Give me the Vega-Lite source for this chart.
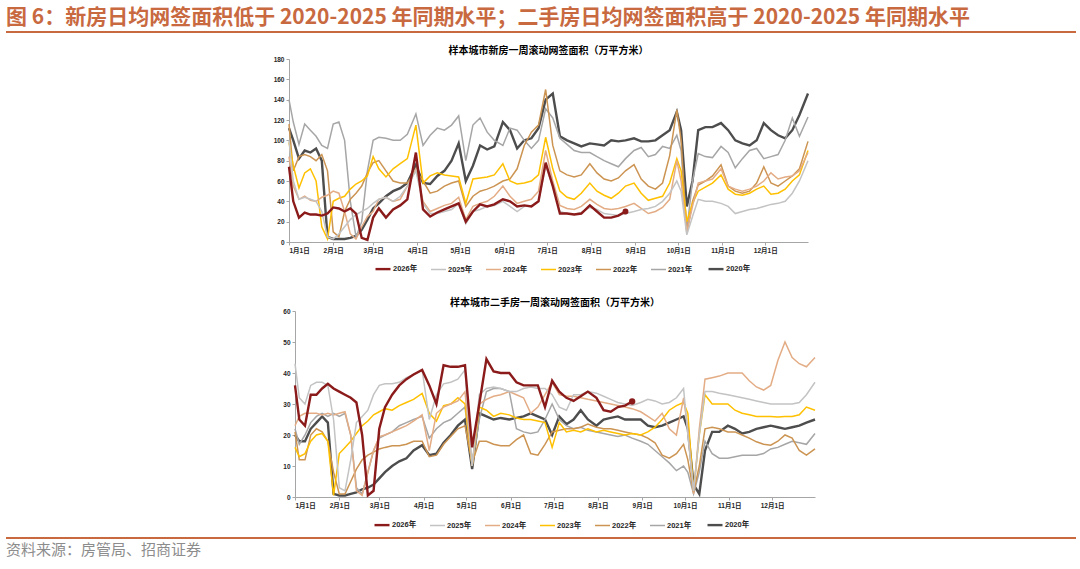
{
  "$schema": "https://vega.github.io/schema/vega-lite/v6.json",
  "background": "white",
  "padding": {"left": 5, "right": 5, "top": 7, "bottom": 0},
  "datasets": {
    "newhome": [
      {"d":"2021-01-01","2026年":74,"2025年":100,"2024年":84,"2023年":98,"2022年":116,"2021年":140,"2020年":112},
      {"d":"2021-01-04","2026年":40,"2025年":60,"2024年":55,"2023年":75,"2022年":70,"2021年":118,"2020年":100},
      {"d":"2021-01-08","2026年":24,"2025年":42,"2024年":42,"2023年":53,"2022年":84,"2021年":96,"2020年":82},
      {"d":"2021-01-12","2026年":29,"2025年":44,"2024年":45,"2023年":68,"2022年":86,"2021年":116,"2020年":90},
      {"d":"2021-01-16","2026年":27,"2025年":42,"2024年":41,"2023年":72,"2022年":84,"2021年":110,"2020年":88},
      {"d":"2021-01-20","2026年":27,"2025年":40,"2024年":40,"2023年":60,"2022年":80,"2021年":104,"2020年":92},
      {"d":"2021-01-24","2026年":26,"2025年":30,"2024年":44,"2023年":15,"2022年":86,"2021年":95,"2020年":80},
      {"d":"2021-01-28","2026年":28,"2025年":5,"2024年":46,"2023年":3,"2022年":70,"2021年":92,"2020年":5},
      {"d":"2021-02-01","2026年":34,"2025年":3,"2024年":50,"2023年":40,"2022年":10,"2021年":116,"2020年":3},
      {"d":"2021-02-05","2026年":33,"2025年":8,"2024年":48,"2023年":43,"2022年":5,"2021年":118,"2020年":3},
      {"d":"2021-02-09","2026年":30,"2025年":15,"2024年":30,"2023年":45,"2022年":30,"2021年":100,"2020年":3},
      {"d":"2021-02-13","2026年":33,"2025年":22,"2024年":8,"2023年":52,"2022年":42,"2021年":40,"2020年":4},
      {"d":"2021-02-17","2026年":28,"2025年":27,"2024年":3,"2023年":57,"2022年":48,"2021年":5,"2020年":6},
      {"d":"2021-02-21","2026年":4,"2025年":30,"2024年":15,"2023年":60,"2022年":55,"2021年":20,"2020年":12},
      {"d":"2021-02-25","2026年":2,"2025年":33,"2024年":25,"2023年":65,"2022年":68,"2021年":70,"2020年":22},
      {"d":"2021-03-01","2026年":24,"2025年":38,"2024年":30,"2023年":84,"2022年":78,"2021年":100,"2020年":33},
      {"d":"2021-03-05","2026年":33,"2025年":42,"2024年":42,"2023年":72,"2022年":80,"2021年":103,"2020年":38},
      {"d":"2021-03-10","2026年":24,"2025年":44,"2024年":44,"2023年":64,"2022年":70,"2021年":102,"2020年":45},
      {"d":"2021-03-15","2026年":32,"2025年":40,"2024年":40,"2023年":72,"2022年":60,"2021年":100,"2020年":50},
      {"d":"2021-03-20","2026年":36,"2025年":45,"2024年":42,"2023年":77,"2022年":58,"2021年":100,"2020年":53},
      {"d":"2021-03-25","2026年":42,"2025年":55,"2024年":55,"2023年":82,"2022年":58,"2021年":106,"2020年":58},
      {"d":"2021-03-31","2026年":88,"2025年":70,"2024年":72,"2023年":115,"2022年":70,"2021年":126,"2020年":76},
      {"d":"2021-04-05","2026年":32,"2025年":38,"2024年":40,"2023年":58,"2022年":60,"2021年":95,"2020年":58},
      {"d":"2021-04-10","2026年":25,"2025年":28,"2024年":30,"2023年":65,"2022年":48,"2021年":105,"2020年":57},
      {"d":"2021-04-15","2026年":29,"2025年":28,"2024年":33,"2023年":68,"2022年":50,"2021年":112,"2020年":65},
      {"d":"2021-04-20","2026年":32,"2025年":30,"2024年":36,"2023年":66,"2022年":55,"2021年":110,"2020年":70},
      {"d":"2021-04-25","2026年":35,"2025年":32,"2024年":38,"2023年":65,"2022年":58,"2021年":115,"2020年":80},
      {"d":"2021-04-30","2026年":38,"2025年":38,"2024年":44,"2023年":64,"2022年":60,"2021年":124,"2020年":97},
      {"d":"2021-05-05","2026年":20,"2025年":18,"2024年":22,"2023年":38,"2022年":35,"2021年":80,"2020年":60},
      {"d":"2021-05-10","2026年":30,"2025年":30,"2024年":35,"2023年":62,"2022年":45,"2021年":115,"2020年":75},
      {"d":"2021-05-15","2026年":37,"2025年":32,"2024年":38,"2023年":63,"2022年":50,"2021年":122,"2020年":95},
      {"d":"2021-05-20","2026年":35,"2025年":35,"2024年":40,"2023年":64,"2022年":52,"2021年":108,"2020年":91},
      {"d":"2021-05-25","2026年":37,"2025年":36,"2024年":45,"2023年":66,"2022年":55,"2021年":100,"2020年":94},
      {"d":"2021-05-31","2026年":42,"2025年":40,"2024年":55,"2023年":77,"2022年":60,"2021年":95,"2020年":118},
      {"d":"2021-06-05","2026年":40,"2025年":35,"2024年":45,"2023年":60,"2022年":62,"2021年":112,"2020年":110},
      {"d":"2021-06-10","2026年":35,"2025年":30,"2024年":38,"2023年":57,"2022年":72,"2021年":110,"2020年":92},
      {"d":"2021-06-15","2026年":36,"2025年":35,"2024年":40,"2023年":58,"2022年":95,"2021年":100,"2020年":100},
      {"d":"2021-06-20","2026年":35,"2025年":36,"2024年":42,"2023年":60,"2022年":108,"2021年":92,"2020年":102},
      {"d":"2021-06-25","2026年":40,"2025年":40,"2024年":50,"2023年":66,"2022年":115,"2021年":100,"2020年":112},
      {"d":"2021-06-30","2026年":78,"2025年":75,"2024年":90,"2023年":103,"2022年":150,"2021年":131,"2020年":140},
      {"d":"2021-07-05","2026年":55,"2025年":55,"2024年":60,"2023年":72,"2022年":95,"2021年":122,"2020年":146},
      {"d":"2021-07-10","2026年":28,"2025年":30,"2024年":36,"2023年":50,"2022年":70,"2021年":102,"2020年":104},
      {"d":"2021-07-15","2026年":28,"2025年":28,"2024年":33,"2023年":44,"2022年":66,"2021年":96,"2020年":100},
      {"d":"2021-07-20","2026年":27,"2025年":27,"2024年":32,"2023年":42,"2022年":64,"2021年":90,"2020年":97},
      {"d":"2021-07-25","2026年":28,"2025年":29,"2024年":35,"2023年":48,"2022年":66,"2021年":88,"2020年":94},
      {"d":"2021-07-31","2026年":36,"2025年":34,"2024年":42,"2023年":58,"2022年":77,"2021年":88,"2020年":97},
      {"d":"2021-08-05","2026年":30,"2025年":32,"2024年":37,"2023年":50,"2022年":68,"2021年":84,"2020年":96},
      {"d":"2021-08-10","2026年":24,"2025年":28,"2024年":33,"2023年":46,"2022年":62,"2021年":80,"2020年":95},
      {"d":"2021-08-15","2026年":24,"2025年":27,"2024年":32,"2023年":43,"2022年":60,"2021年":77,"2020年":100},
      {"d":"2021-08-20","2026年":26,"2025年":26,"2024年":33,"2023年":48,"2022年":63,"2021年":74,"2020年":99},
      {"d":"2021-08-25","2026年":30,"2025年":28,"2024年":35,"2023年":55,"2022年":70,"2021年":82,"2020年":100},
      {"d":"2021-08-31","2025年":30,"2024年":38,"2023年":58,"2022年":76,"2021年":90,"2020年":102},
      {"d":"2021-09-05","2025年":32,"2024年":33,"2023年":48,"2022年":62,"2021年":93,"2020年":99},
      {"d":"2021-09-10","2025年":33,"2024年":28,"2023年":41,"2022年":55,"2021年":84,"2020年":99},
      {"d":"2021-09-15","2025年":35,"2024年":30,"2023年":43,"2022年":52,"2021年":86,"2020年":100},
      {"d":"2021-09-20","2025年":40,"2024年":34,"2023年":45,"2022年":58,"2021年":94,"2020年":105},
      {"d":"2021-09-25","2025年":48,"2024年":42,"2023年":58,"2022年":85,"2021年":92,"2020年":110},
      {"d":"2021-09-30","2025年":60,"2024年":80,"2023年":82,"2022年":130,"2021年":105,"2020年":128},
      {"d":"2021-10-03","2025年":50,"2024年":60,"2023年":70,"2022年":100,"2021年":90,"2020年":110},
      {"d":"2021-10-07","2025年":7,"2024年":10,"2023年":20,"2022年":8,"2021年":12,"2020年":35},
      {"d":"2021-10-11","2025年":25,"2024年":35,"2023年":38,"2022年":40,"2021年":60,"2020年":60},
      {"d":"2021-10-15","2025年":42,"2024年":58,"2023年":50,"2022年":56,"2021年":87,"2020年":110},
      {"d":"2021-10-20","2025年":40,"2024年":60,"2023年":54,"2022年":60,"2021年":84,"2020年":113},
      {"d":"2021-10-25","2025年":40,"2024年":62,"2023年":58,"2022年":65,"2021年":83,"2020年":113},
      {"d":"2021-10-31","2025年":38,"2024年":72,"2023年":66,"2022年":76,"2021年":94,"2020年":117},
      {"d":"2021-11-05","2025年":35,"2024年":55,"2023年":52,"2022年":55,"2021年":88,"2020年":110},
      {"d":"2021-11-10","2025年":28,"2024年":52,"2023年":47,"2022年":50,"2021年":73,"2020年":100},
      {"d":"2021-11-15","2025年":30,"2024年":50,"2023年":46,"2022年":48,"2021年":82,"2020年":97},
      {"d":"2021-11-20","2025年":32,"2024年":52,"2023年":48,"2022年":50,"2021年":90,"2020年":95},
      {"d":"2021-11-25","2025年":33,"2024年":55,"2023年":52,"2022年":58,"2021年":92,"2020年":100},
      {"d":"2021-11-30","2025年":35,"2024年":60,"2023年":55,"2022年":74,"2021年":82,"2020年":117},
      {"d":"2021-12-05","2025年":37,"2024年":68,"2023年":47,"2022年":58,"2021年":84,"2020年":110},
      {"d":"2021-12-10","2025年":38,"2024年":62,"2023年":48,"2022年":55,"2021年":86,"2020年":105},
      {"d":"2021-12-15","2025年":40,"2024年":64,"2023年":52,"2022年":60,"2021年":100,"2020年":102},
      {"d":"2021-12-20","2025年":48,"2024年":65,"2023年":60,"2022年":65,"2021年":122,"2020年":110},
      {"d":"2021-12-25","2025年":60,"2024年":70,"2023年":66,"2022年":72,"2021年":104,"2020年":125},
      {"d":"2021-12-31","2025年":80,"2024年":88,"2023年":90,"2022年":99,"2021年":123,"2020年":146}
    ],
    "resale": [
      {"d":"2021-01-01","2026年":36,"2025年":43,"2024年":23,"2023年":16,"2022年":21,"2021年":22,"2020年":20},
      {"d":"2021-01-04","2026年":25,"2025年":32,"2024年":26,"2023年":13,"2022年":12,"2021年":17,"2020年":18},
      {"d":"2021-01-08","2026年":23,"2025年":30,"2024年":27,"2023年":14,"2022年":12,"2021年":20,"2020年":18},
      {"d":"2021-01-12","2026年":33,"2025年":36,"2024年":27,"2023年":18,"2022年":20,"2021年":24,"2020年":22},
      {"d":"2021-01-16","2026年":33,"2025年":37,"2024年":27,"2023年":20,"2022年":22,"2021年":26,"2020年":24},
      {"d":"2021-01-20","2026年":35,"2025年":37,"2024年":26.5,"2023年":20.5,"2022年":21,"2021年":27,"2020年":26},
      {"d":"2021-01-24","2026年":36.5,"2025年":36,"2024年":27,"2023年":18,"2022年":18,"2021年":26,"2020年":24},
      {"d":"2021-01-28","2026年":35,"2025年":25,"2024年":26.5,"2023年":0.5,"2022年":8,"2021年":27,"2020年":1},
      {"d":"2021-02-01","2026年":34,"2025年":3,"2024年":27,"2023年":14,"2022年":1,"2021年":26,"2020年":0.5},
      {"d":"2021-02-05","2026年":33,"2025年":2,"2024年":27.5,"2023年":16,"2022年":1,"2021年":27,"2020年":0.5},
      {"d":"2021-02-09","2026年":32,"2025年":12,"2024年":20,"2023年":18,"2022年":5,"2021年":20,"2020年":1},
      {"d":"2021-02-13","2026年":30.5,"2025年":24,"2024年":2,"2023年":20.5,"2022年":9,"2021年":3,"2020年":1.5},
      {"d":"2021-02-17","2026年":20,"2025年":26,"2024年":0.5,"2023年":23,"2022年":12,"2021年":1,"2020年":2.5},
      {"d":"2021-02-21","2026年":0.5,"2025年":28,"2024年":8,"2023年":24.5,"2022年":13.5,"2021年":8,"2020年":3},
      {"d":"2021-02-25","2026年":2,"2025年":33,"2024年":15,"2023年":26.5,"2022年":14.5,"2021年":15,"2020年":4},
      {"d":"2021-03-01","2026年":22,"2025年":36,"2024年":19.5,"2023年":27.5,"2022年":15.5,"2021年":19,"2020年":6},
      {"d":"2021-03-05","2026年":29,"2025年":36.5,"2024年":20,"2023年":28.5,"2022年":16,"2021年":20,"2020年":8},
      {"d":"2021-03-10","2026年":33,"2025年":36.5,"2024年":21,"2023年":28,"2022年":16.5,"2021年":21,"2020年":10},
      {"d":"2021-03-15","2026年":36,"2025年":37,"2024年":22,"2023年":29.5,"2022年":16.5,"2021年":23,"2020年":11.5},
      {"d":"2021-03-20","2026年":38,"2025年":38.5,"2024年":23,"2023年":30.5,"2022年":17,"2021年":24,"2020年":12.5},
      {"d":"2021-03-25","2026年":39.5,"2025年":39.5,"2024年":24.5,"2023年":31.5,"2022年":18,"2021年":25,"2020年":15},
      {"d":"2021-03-31","2026年":41,"2025年":41,"2024年":26.5,"2023年":33.4,"2022年":18,"2021年":26,"2020年":16.7},
      {"d":"2021-04-05","2026年":36,"2025年":25,"2024年":15,"2023年":27,"2022年":13,"2021年":19,"2020年":13.5},
      {"d":"2021-04-10","2026年":30,"2025年":33,"2024年":27,"2023年":24.5,"2022年":13.5,"2021年":22,"2020年":14},
      {"d":"2021-04-15","2026年":42.5,"2025年":36.5,"2024年":29,"2023年":29.5,"2022年":17,"2021年":24,"2020年":17.5},
      {"d":"2021-04-20","2026年":42,"2025年":37,"2024年":30,"2023年":30,"2022年":19.5,"2021年":25,"2020年":20},
      {"d":"2021-04-25","2026年":42,"2025年":38,"2024年":31,"2023年":32,"2022年":22,"2021年":27,"2020年":23},
      {"d":"2021-04-30","2026年":42.5,"2025年":41,"2024年":34,"2023年":30,"2022年":23,"2021年":29,"2020年":25},
      {"d":"2021-05-05","2026年":16,"2025年":10,"2024年":10,"2023年":10,"2022年":11,"2021年":10,"2020年":9},
      {"d":"2021-05-10","2026年":30,"2025年":33,"2024年":30,"2023年":29,"2022年":18,"2021年":25,"2020年":27},
      {"d":"2021-05-15","2026年":44.5,"2025年":35,"2024年":31.5,"2023年":28,"2022年":18,"2021年":34,"2020年":26},
      {"d":"2021-05-20","2026年":40.5,"2025年":35.5,"2024年":32.5,"2023年":26,"2022年":17,"2021年":35,"2020年":25},
      {"d":"2021-05-25","2026年":40,"2025年":35,"2024年":33,"2023年":27,"2022年":16.5,"2021年":35,"2020年":25.5},
      {"d":"2021-05-31","2026年":40,"2025年":34,"2024年":34,"2023年":26.5,"2022年":16.5,"2021年":34,"2020年":25},
      {"d":"2021-06-05","2026年":37,"2025年":34,"2024年":33,"2023年":25.5,"2022年":18.5,"2021年":22,"2020年":25.5},
      {"d":"2021-06-10","2026年":36,"2025年":35,"2024年":32,"2023年":25,"2022年":20,"2021年":21,"2020年":26},
      {"d":"2021-06-15","2026年":36,"2025年":35.5,"2024年":27,"2023年":25,"2022年":14,"2021年":20.5,"2020年":27},
      {"d":"2021-06-20","2026年":36,"2025年":35,"2024年":29,"2023年":24.5,"2022年":13.5,"2021年":21,"2020年":26},
      {"d":"2021-06-25","2026年":29,"2025年":35,"2024年":33,"2023年":24,"2022年":17,"2021年":25,"2020年":25},
      {"d":"2021-06-30","2026年":37.5,"2025年":33,"2024年":37,"2023年":16,"2022年":21,"2021年":30,"2020年":20},
      {"d":"2021-07-05","2026年":34,"2025年":29,"2024年":33,"2023年":24,"2022年":21.5,"2021年":25,"2020年":26},
      {"d":"2021-07-10","2026年":32,"2025年":28,"2024年":32.5,"2023年":21,"2022年":22,"2021年":23,"2020年":23.5},
      {"d":"2021-07-15","2026年":31,"2025年":33,"2024年":32.5,"2023年":21.5,"2022年":22,"2021年":22,"2020年":25},
      {"d":"2021-07-20","2026年":32.5,"2025年":33,"2024年":32,"2023年":21,"2022年":22.5,"2021年":22.5,"2020年":28},
      {"d":"2021-07-25","2026年":34,"2025年":34,"2024年":31.5,"2023年":22,"2022年":23.5,"2021年":21.5,"2020年":25},
      {"d":"2021-07-31","2026年":32,"2025年":33.5,"2024年":31,"2023年":21,"2022年":22.5,"2021年":21,"2020年":23},
      {"d":"2021-08-05","2026年":28,"2025年":32.5,"2024年":30.5,"2023年":21.5,"2022年":22,"2021年":20.5,"2020年":25},
      {"d":"2021-08-10","2026年":27.5,"2025年":31.5,"2024年":30,"2023年":21,"2022年":22,"2021年":20,"2020年":25.5},
      {"d":"2021-08-15","2026年":29,"2025年":30.5,"2024年":29.5,"2023年":20.5,"2022年":21.5,"2021年":19.5,"2020年":26},
      {"d":"2021-08-20","2026年":29.5,"2025年":30,"2024年":29,"2023年":20,"2022年":21,"2021年":20,"2020年":25},
      {"d":"2021-08-25","2026年":30.8,"2025年":29.5,"2024年":28.5,"2023年":20.5,"2022年":20.5,"2021年":19,"2020年":25},
      {"d":"2021-08-31","2025年":30.5,"2024年":27.5,"2023年":20,"2022年":20,"2021年":18,"2020年":25},
      {"d":"2021-09-05","2025年":31.5,"2024年":26,"2023年":21,"2022年":19,"2021年":17,"2020年":23},
      {"d":"2021-09-10","2025年":31,"2024年":24.5,"2023年":22.5,"2022年":17.5,"2021年":15,"2020年":22.5},
      {"d":"2021-09-15","2025年":30,"2024年":27,"2023年":25,"2022年":13.5,"2021年":13,"2020年":23},
      {"d":"2021-09-20","2025年":30.5,"2024年":22,"2023年":28,"2022年":12.5,"2021年":11,"2020年":24},
      {"d":"2021-09-25","2025年":32,"2024年":20,"2023年":29.5,"2022年":14,"2021年":8.5,"2020年":25},
      {"d":"2021-09-30","2025年":35,"2024年":32,"2023年":30.5,"2022年":17,"2021年":10,"2020年":26},
      {"d":"2021-10-03","2025年":20,"2024年":22,"2023年":27,"2022年":12,"2021年":8,"2020年":22},
      {"d":"2021-10-07","2025年":2,"2024年":1,"2023年":2,"2022年":1.5,"2021年":1,"2020年":4},
      {"d":"2021-10-11","2025年":20,"2024年":22,"2023年":20,"2022年":10,"2021年":8,"2020年":1},
      {"d":"2021-10-15","2025年":34,"2024年":38,"2023年":33,"2022年":22,"2021年":18,"2020年":15},
      {"d":"2021-10-20","2025年":34,"2024年":38.5,"2023年":30,"2022年":22.5,"2021年":14,"2020年":21},
      {"d":"2021-10-25","2025年":33.5,"2024年":39,"2023年":30,"2022年":22,"2021年":12.5,"2020年":21},
      {"d":"2021-10-31","2025年":33,"2024年":40,"2023年":30,"2022年":21,"2021年":12.5,"2020年":23},
      {"d":"2021-11-05","2025年":32.5,"2024年":40,"2023年":28,"2022年":21,"2021年":13,"2020年":22},
      {"d":"2021-11-10","2025年":32,"2024年":40,"2023年":27,"2022年":20,"2021年":13.5,"2020年":20.5},
      {"d":"2021-11-15","2025年":31.5,"2024年":37.5,"2023年":26.5,"2022年":19,"2021年":13.5,"2020年":21},
      {"d":"2021-11-20","2025年":31,"2024年":35.5,"2023年":26,"2022年":17.8,"2021年":13.5,"2020年":22},
      {"d":"2021-11-25","2025年":30.5,"2024年":34.5,"2023年":26,"2022年":17,"2021年":14,"2020年":22.5},
      {"d":"2021-11-30","2025年":30,"2024年":36,"2023年":26,"2022年":16.7,"2021年":15.5,"2020年":23},
      {"d":"2021-12-05","2025年":30,"2024年":44,"2023年":25.8,"2022年":18,"2021年":16,"2020年":22.5},
      {"d":"2021-12-10","2025年":30,"2024年":50,"2023年":26,"2022年":20,"2021年":17,"2020年":22},
      {"d":"2021-12-15","2025年":30,"2024年":45,"2023年":26,"2022年":19,"2021年":18,"2020年":22.5},
      {"d":"2021-12-20","2025年":30.5,"2024年":43,"2023年":26.5,"2022年":15,"2021年":17.5,"2020年":23},
      {"d":"2021-12-25","2025年":33,"2024年":42,"2023年":29,"2022年":13.5,"2021年":17,"2020年":24},
      {"d":"2021-12-31","2025年":37,"2024年":45,"2023年":28,"2022年":15.5,"2021年":20.5,"2020年":25}
    ]
  },
  "vconcat": [
    {
      "width": 1070,
      "height": 7,
      "title": {"text": "图 6：新房日均网签面积低于 2020-2025 年同期水平；二手房日均网签面积高于 2020-2025 年同期水平", "anchor": "start", "orient": "top", "font": "Noto Sans CJK SC", "fontSize": 21, "fontWeight": "bold", "color": "#C8693F", "offset": 3, "frame": "group"},
      "data": {"values": [{"k": 1}]},
      "mark": {"type": "rule", "color": "#C8693F", "strokeWidth": 2},
      "encoding": {"y": {"field": "k", "type": "quantitative", "scale": {"domain": [0, 1]}, "axis": null}}
    },
    {
      "vconcat": [
        {
          "hconcat": [
            {"width": 263, "height": 1, "data": {"values": []}, "mark": "point"},
            {
              "width": 519,
              "height": 183,
              "title": {"text": "样本城市新房一周滚动网签面积（万平方米）", "font": "Noto Sans CJK SC", "fontSize": 10, "fontWeight": "bold", "color": "#000000", "frame": "group", "offset": 0, "anchor": "middle"},
              "data": {"name": "newhome"},
              "transform": [{"fold": ["2020年", "2021年", "2022年", "2023年", "2024年", "2025年", "2026年"], "as": ["s", "v"]}],
              "encoding": {
                "x": {"field": "d", "type": "temporal",
                      "scale": {"type": "utc", "nice": false, "domain": [{"year": 2021, "month": 1, "date": 1, "utc": true}, {"year": 2021, "month": 12, "date": 31, "utc": true}]},
                      "axis": {"title": null, "grid": false, "tickCount": {"interval": "month", "step": 1}, "labelExpr": "(utcmonth(datum.value)+1)+'月'+utcdate(datum.value)+'日'", "labelOverlap": false}},
                "y": {"field": "v", "type": "quantitative", "scale": {"domain": [0, 180], "nice": false},
                      "axis": {"title": null, "grid": false, "values": [0, 20, 40, 60, 80, 100, 120, 140, 160, 180], "minExtent": 20, "maxExtent": 20}}
              },
              "layer": [
                {
                  "mark": {"type": "line", "interpolate": "linear"},
                  "encoding": {
                    "color": {"field": "s", "type": "nominal",
                              "scale": {"domain": ["2026年", "2025年", "2024年", "2023年", "2022年", "2021年", "2020年"], "range": ["#8B1A1A", "#C3C3C3", "#E3AC85", "#FFC000", "#CC9452", "#A6A6A6", "#4D4D4D"]},
                              "legend": {"orient": "none", "legendX": 368, "legendY": 201, "direction": "horizontal", "title": null}},
                    "strokeWidth": {"field": "s", "type": "nominal",
                              "scale": {"type": "ordinal", "domain": ["2026年", "2025年", "2024年", "2023年", "2022年", "2021年", "2020年"], "range": [2.4, 1.5, 1.5, 1.5, 1.5, 1.5, 2.4]},
                              "legend": {"orient": "none", "legendX": 368, "legendY": 201, "direction": "horizontal", "title": null}}
                  }
                },
                {
                  "transform": [{"filter": {"and": [{"field": "s", "equal": "2026年"}, {"field": "d", "equal": {"year": 2021, "month": 8, "date": 25, "utc": true}}]}}],
                  "mark": {"type": "point", "filled": true, "size": 35, "color": "#8B1A1A", "opacity": 1}
                }
              ]
            }
          ],
          "spacing": 0
        },
        {
          "hconcat": [
            {"width": 269, "height": 1, "data": {"values": []}, "mark": "point"},
            {
              "width": 520,
              "height": 186,
              "title": {"text": "样本城市二手房一周滚动网签面积（万平方米）", "font": "Noto Sans CJK SC", "fontSize": 10, "fontWeight": "bold", "color": "#000000", "frame": "group", "offset": 0, "anchor": "middle"},
              "data": {"name": "resale"},
              "transform": [{"fold": ["2020年", "2021年", "2022年", "2023年", "2024年", "2025年", "2026年"], "as": ["s", "v"]}],
              "encoding": {
                "x": {"field": "d", "type": "temporal",
                      "scale": {"type": "utc", "nice": false, "domain": [{"year": 2021, "month": 1, "date": 1, "utc": true}, {"year": 2021, "month": 12, "date": 31, "utc": true}]},
                      "axis": {"title": null, "grid": false, "tickCount": {"interval": "month", "step": 1}, "labelExpr": "(utcmonth(datum.value)+1)+'月'+utcdate(datum.value)+'日'", "labelOverlap": false}},
                "y": {"field": "v", "type": "quantitative", "scale": {"domain": [0, 60], "nice": false},
                      "axis": {"title": null, "grid": false, "values": [0, 10, 20, 30, 40, 50, 60], "minExtent": 20, "maxExtent": 20}}
              },
              "layer": [
                {
                  "mark": {"type": "line", "interpolate": "linear"},
                  "encoding": {
                    "color": {"field": "s", "type": "nominal",
                              "scale": {"domain": ["2026年", "2025年", "2024年", "2023年", "2022年", "2021年", "2020年"], "range": ["#8B1A1A", "#C3C3C3", "#E3AC85", "#FFC000", "#CC9452", "#A6A6A6", "#4D4D4D"]},
                              "legend": {"orient": "none", "legendX": 367, "legendY": 205, "direction": "horizontal", "title": null}},
                    "strokeWidth": {"field": "s", "type": "nominal",
                              "scale": {"type": "ordinal", "domain": ["2026年", "2025年", "2024年", "2023年", "2022年", "2021年", "2020年"], "range": [2.4, 1.5, 1.5, 1.5, 1.5, 1.5, 2.4]},
                              "legend": {"orient": "none", "legendX": 367, "legendY": 205, "direction": "horizontal", "title": null}}
                  }
                },
                {
                  "transform": [{"filter": {"and": [{"field": "s", "equal": "2026年"}, {"field": "d", "equal": {"year": 2021, "month": 8, "date": 25, "utc": true}}]}}],
                  "mark": {"type": "point", "filled": true, "size": 40, "color": "#8B1A1A", "opacity": 1}
                }
              ]
            }
          ],
          "spacing": 0
        }
      ],
      "spacing": 24,
      "resolve": {"scale": {"x": "independent", "y": "independent", "color": "independent", "strokeWidth": "independent"}}
    },
    {
      "width": 1070,
      "height": 1,
      "title": {"text": "资料来源：房管局、招商证券", "anchor": "start", "orient": "bottom", "font": "Noto Sans CJK SC", "fontSize": 15, "fontWeight": "normal", "color": "#8C8C8C", "offset": 4, "frame": "group"},
      "data": {"values": [{"k": 0}]},
      "mark": {"type": "rule", "color": "#C8693F", "strokeWidth": 2},
      "encoding": {"y": {"field": "k", "type": "quantitative", "scale": {"domain": [0, 1]}, "axis": null}}
    }
  ],
  "spacing": 7,
  "config": {
    "view": {"stroke": null},
    "axis": {
      "labelFont": "Liberation Sans, Noto Sans CJK SC",
      "labelFontSize": 6.5,
      "labelFontWeight": "bold",
      "labelColor": "#262626",
      "domainColor": "#A6A6A6",
      "tickColor": "#A6A6A6",
      "tickSize": 3,
      "labelPadding": 2
    },
    "legend": {
      "symbolType": "stroke",
      "symbolSize": 225,
      "labelFont": "Liberation Sans, Noto Sans CJK SC",
      "labelFontSize": 7.5,
      "labelFontWeight": "bold",
      "labelColor": "#262626",
      "labelOffset": 1,
      "columnPadding": 10
    }
  }
}
